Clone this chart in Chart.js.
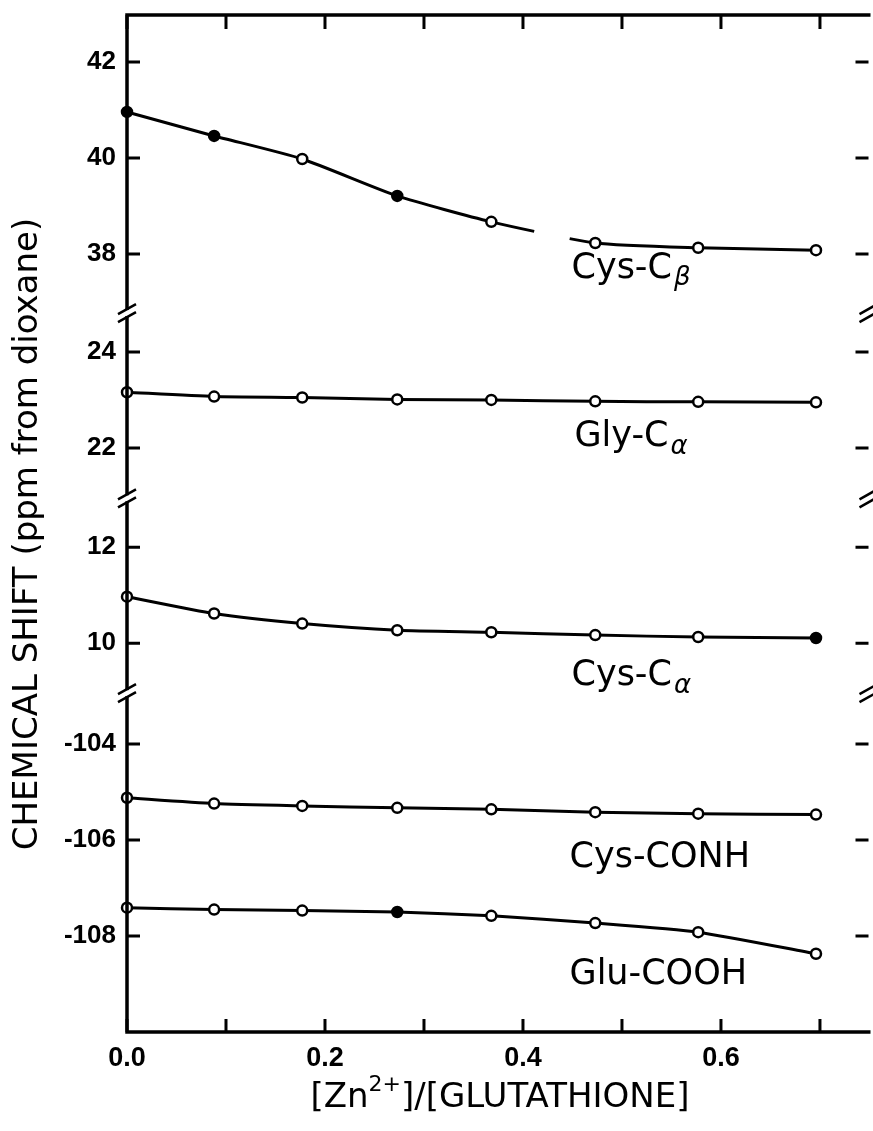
<!DOCTYPE html>
<html>
<head>
<meta charset="utf-8">
<script src="https://cdn.jsdelivr.net/npm/chart.js@4.4.0/dist/chart.umd.min.js"></script>
<style>
  html, body { margin: 0; padding: 0; background: #fff; overflow: hidden; }
  #wrap { width: 873px; height: 1131px; }
</style>
</head>
<body>
<div id="wrap"><canvas id="shiftChart" width="873" height="1131"></canvas></div>
<script>
// [Zn2+]/[glutathione] ratio for every titration point
const ratio = [0, 0.088, 0.177, 0.273, 0.368, 0.473, 0.577, 0.696];

// chemical shifts, ppm from dioxane
const cysCb   = [40.96, 40.46, 39.98, 39.21, 38.67, 38.23, 38.13, 38.08];
const glyCa   = [23.16, 23.07, 23.05, 23.01, 23.00, 22.97, 22.96, 22.95];
const cysCa   = [10.97, 10.62, 10.41, 10.27, 10.23, 10.17, 10.13, 10.11];
const cysConh = [-105.12, -105.24, -105.29, -105.33, -105.36, -105.42, -105.45, -105.47];
const gluCooh = [-107.41, -107.45, -107.47, -107.50, -107.58, -107.73, -107.92, -108.37];

// axis ticks
const xTicks = [0, 0.1, 0.2, 0.3, 0.4, 0.5, 0.6, 0.7];
const yTicksCb = [38, 40, 42];
const yTicksGly = [22, 24];
const yTicksCa = [10, 12];
const yTicksCarbonyl = [-108, -106, -104];

// the y axis is broken into four pieces; each piece is shifted onto one scale
const pieces = [
  { shift: 110,    ticks: yTicksCarbonyl },
  { shift: -1.9,   ticks: yTicksCa },
  { shift: -9.83,  ticks: yTicksGly },
  { shift: -21.79, ticks: yTicksCb }
];
const breaksAt = [7.06, 11.12, 14.98];

const series = [
  { label: 'Cys-Cβ',   values: cysCb,   piece: 3, fill: ['#000','#000','#fff','#000','#fff','#fff','#fff','#fff'], gapAfter: 4 },
  { label: 'Gly-Cα',   values: glyCa,   piece: 2, fill: '#fff' },
  { label: 'Cys-Cα',   values: cysCa,   piece: 1, fill: ['#fff','#fff','#fff','#fff','#fff','#fff','#fff','#000'] },
  { label: 'Cys-CONH', values: cysConh, piece: 0, fill: '#fff' },
  { label: 'Glu-COOH', values: gluCooh, piece: 0, fill: ['#fff','#fff','#fff','#000','#fff','#fff','#fff','#fff'] }
];

// curve names written beside the curves: x ratio, y in the piece's own ppm
const curveNames = [
  { main: 'Cys-C', sub: 'β', piece: 3, x: 0.449, y: 37.7 },
  { main: 'Gly-C', sub: 'α', piece: 2, x: 0.452, y: 22.23 },
  { main: 'Cys-C', sub: 'α', piece: 1, x: 0.449, y: 9.32 },
  { main: 'Cys-CONH', sub: '', piece: 0, x: 0.447, y: -106.375 },
  { main: 'Glu-COOH', sub: '', piece: 0, x: 0.447, y: -108.81 }
];

const yTickValues = [];
const yTickLabels = [];
pieces.forEach(p => p.ticks.forEach(t => {
  yTickValues.push(t + p.shift);
  yTickLabels.push(String(t));
}));

const FONT = "'DejaVu Sans', sans-serif";

const frameAndText = {
  id: 'frameAndText',
  afterDraw(chart) {
    const ctx = chart.ctx;
    const xs = chart.scales.x, ys = chart.scales.y;
    const { left, right, top, bottom } = chart.chartArea;
    const rightAxis = right + 3; // the right spine sits just past the page edge
    ctx.save();
    ctx.strokeStyle = '#000';
    ctx.lineCap = 'butt';

    // frame (left, top, bottom)
    ctx.lineWidth = 3.5;
    ctx.beginPath();
    ctx.moveTo(rightAxis + 2, top);
    ctx.lineTo(left, top);
    ctx.lineTo(left, bottom);
    ctx.lineTo(rightAxis + 2, bottom);
    ctx.stroke();

    // inward tick marks
    ctx.lineWidth = 3;
    ctx.beginPath();
    xTicks.forEach(v => {
      const px = xs.getPixelForValue(v);
      ctx.moveTo(px, bottom); ctx.lineTo(px, bottom - 13);
      ctx.moveTo(px, top); ctx.lineTo(px, top + 14);
    });
    yTickValues.forEach(v => {
      const py = ys.getPixelForValue(v);
      ctx.moveTo(left, py); ctx.lineTo(left + 13, py);
      ctx.moveTo(rightAxis, py); ctx.lineTo(rightAxis - 13, py);
    });
    ctx.stroke();

    // axis breaks
    breaksAt.forEach(v => {
      const py = ys.getPixelForValue(v);
      [left, rightAxis].forEach(ax => {
        ctx.fillStyle = '#fff';
        ctx.fillRect(ax - 3, py - 3, 6, 6);
        ctx.beginPath();
        [-4, 4].forEach(d => {
          ctx.moveTo(ax - 9, py + d + 5);
          ctx.lineTo(ax + 9, py + d - 5);
        });
        ctx.lineWidth = 2.5;
        ctx.stroke();
      });
    });

    ctx.fillStyle = '#000';

    // curve names
    curveNames.forEach(n => {
      const px = xs.getPixelForValue(n.x);
      const py = ys.getPixelForValue(n.y + pieces[n.piece].shift);
      ctx.font = '35px ' + FONT;
      ctx.textAlign = 'left';
      ctx.textBaseline = 'middle';
      ctx.fillText(n.main, px, py);
      if (n.sub) {
        const w = ctx.measureText(n.main).width;
        ctx.font = 'italic 26px ' + FONT;
        ctx.fillText(n.sub, px + w + 2, py + 10);
      }
    });

    // y title
    ctx.save();
    ctx.translate(28, 534);
    ctx.rotate(-Math.PI / 2);
    ctx.font = '34px ' + FONT;
    ctx.textAlign = 'center';
    ctx.textBaseline = 'middle';
    ctx.fillText('CHEMICAL SHIFT (ppm from dioxane)', 0, 0);
    ctx.restore();

    // x title with superscript
    const parts = [['[Zn', 34, 0], ['2+', 22, -13], [']/[GLUTATHIONE]', 34, 0]];
    let total = 0;
    parts.forEach(p => { ctx.font = p[1] + 'px ' + FONT; total += ctx.measureText(p[0]).width; });
    let cx = 500 - total / 2;
    ctx.textAlign = 'left';
    ctx.textBaseline = 'middle';
    parts.forEach(p => {
      ctx.font = p[1] + 'px ' + FONT;
      ctx.fillText(p[0], cx, 1098 + p[2]);
      cx += ctx.measureText(p[0]).width;
    });
    ctx.restore();
  }
};

new Chart(document.getElementById('shiftChart'), {
  type: 'line',
  data: {
    datasets: series.map(s => ({
      label: s.label,
      data: ratio.map((x, i) => ({ x: x, y: s.values[i] + pieces[s.piece].shift })),
      borderColor: '#000',
      borderWidth: 3,
      tension: 0.2,
      pointRadius: 5,
      pointBorderWidth: 2.5,
      pointBorderColor: '#000',
      pointBackgroundColor: s.fill,
      clip: false,
      segment: {
        borderDash: c => (s.gapAfter !== undefined && c.p0DataIndex === s.gapAfter ? [44, 36, 400, 0] : undefined)
      }
    }))
  },
  options: {
    responsive: false,
    animation: false,
    devicePixelRatio: 1,
    layout: { padding: { top: 15, right: 0, left: 0, bottom: 0 } },
    plugins: { legend: { display: false }, tooltip: { enabled: false } },
    scales: {
      x: {
        type: 'linear',
        min: 0,
        max: 0.746,
        grid: { display: false, drawTicks: false },
        border: { display: false },
        afterBuildTicks: scale => { scale.ticks = xTicks.map(v => ({ value: v })); },
        afterFit: scale => {
          scale.height = 99;
          scale.paddingLeft = 0;
          scale.paddingRight = 0;
        },
        ticks: {
          autoSkip: false,
          maxRotation: 0,
          padding: 10,
          color: '#000',
          font: { family: 'Liberation Sans', size: 27, weight: 'bold' },
          callback: (v, i) => (i % 2 === 0 ? v.toFixed(1) : '')
        }
      },
      y: {
        type: 'linear',
        min: 0,
        max: 21.19,
        grid: { display: false, drawTicks: false },
        border: { display: false },
        afterBuildTicks: scale => { scale.ticks = yTickValues.map(v => ({ value: v })); },
        afterFit: scale => {
          scale.width = 127;
          scale.paddingTop = 0;
          scale.paddingBottom = 0;
        },
        ticks: {
          autoSkip: false,
          padding: 11,
          color: '#000',
          font: { family: 'Liberation Sans', size: 26, weight: 'bold' },
          callback: (v, i) => yTickLabels[i]
        }
      }
    }
  },
  plugins: [frameAndText]
});
</script>
</body>
</html>
